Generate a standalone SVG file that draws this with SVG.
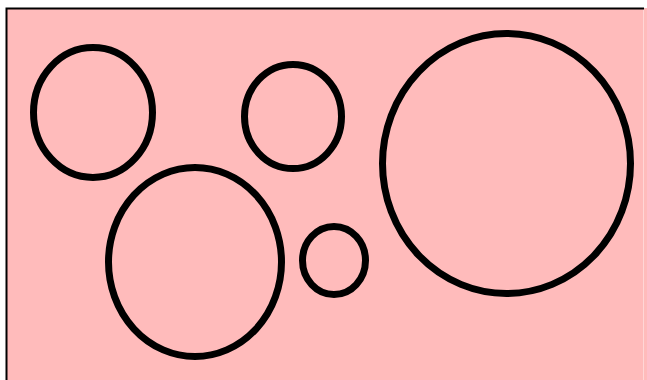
<svg xmlns="http://www.w3.org/2000/svg" width="647" height="380" viewBox="0 0 647 380">
<style>
.c{fill:none;stroke:#000;stroke-width:7}
</style>
<rect width="647" height="380" fill="#fff"/>
<rect x="7" y="8" width="640" height="372" fill="#ffbbbb"/>
<line x1="643.5" y1="9" x2="643.5" y2="380" stroke="#ffd6d6" stroke-width="1"/>
<path d="M6.5 380V8.5H644" fill="none" stroke="#000" stroke-width="2"/>
<g id="c1"><ellipse class="c" cx="93" cy="112.5" rx="59.5" ry="65"/></g>
<g id="c2"><ellipse class="c" cx="293" cy="116.5" rx="48.5" ry="52"/></g>
<g id="c3"><ellipse class="c" cx="506.5" cy="163.5" rx="124" ry="130"/></g>
<g id="c4"><ellipse class="c" cx="195" cy="262" rx="86.5" ry="94.5"/></g>
<g id="c5"><ellipse class="c" cx="334" cy="260.5" rx="31.5" ry="34"/></g>
</svg>
